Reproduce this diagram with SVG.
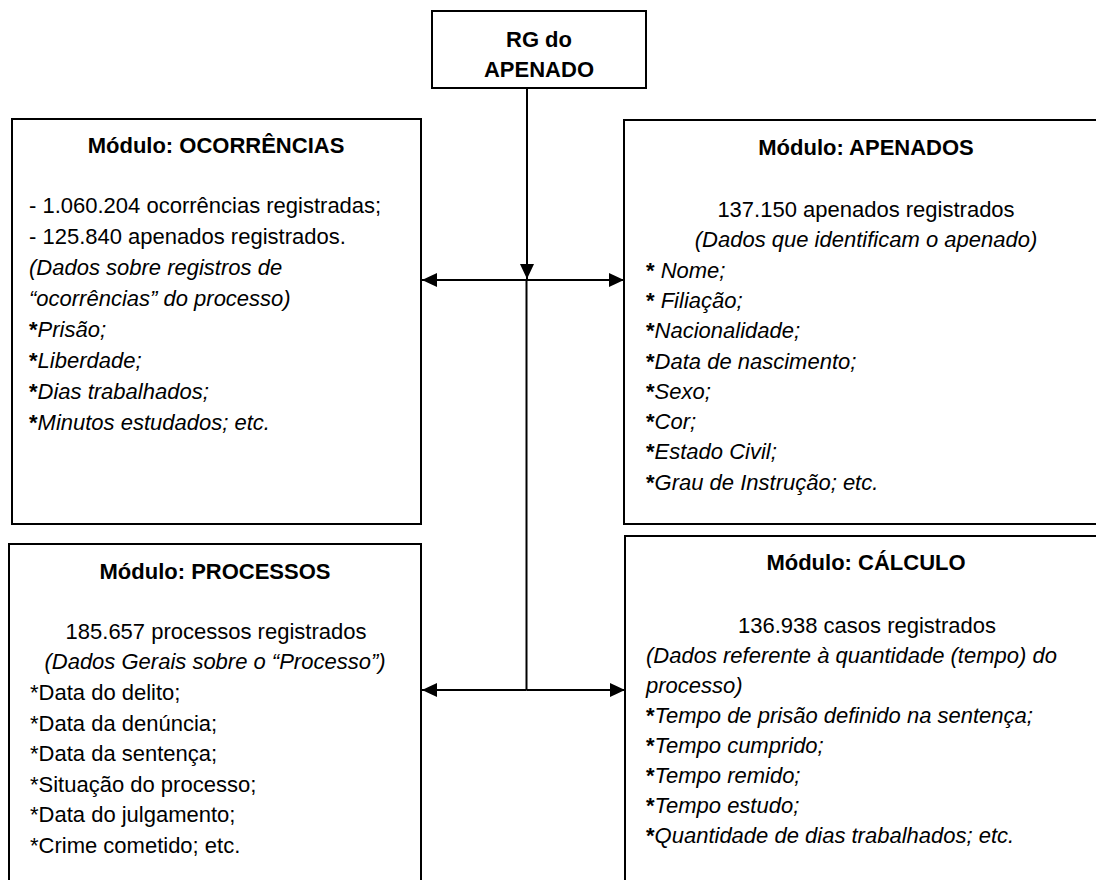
<svg xmlns="http://www.w3.org/2000/svg" width="1096" height="880" viewBox="0 0 1096 880">
<style>
.box{fill:#fff;stroke:#000;stroke-width:2}
text{font-family:"Liberation Sans",Arial,sans-serif;font-size:22px;fill:#000}
.b{font-weight:bold}
.c{text-anchor:middle}
.i{font-style:italic}
.ast{font-weight:bold;font-style:normal}
.con{stroke:#000;stroke-width:2;fill:none}
</style>
<defs>
<marker id="ah" viewBox="0 0 15 14" refX="15" refY="7" markerWidth="15" markerHeight="14" markerUnits="userSpaceOnUse" orient="auto">
<path d="M0,0 L15,7 L0,14 Z" fill="#000"/>
</marker>
</defs>
<g id="connectors">
<line class="con" x1="527" y1="88" x2="527" y2="279" marker-end="url(#ah)"/>
<line class="con" x1="526.5" y1="279" x2="526.5" y2="690"/>
<line class="con" x1="526.5" y1="280" x2="422" y2="280" marker-end="url(#ah)"/>
<line class="con" x1="526.5" y1="280" x2="624" y2="280" marker-end="url(#ah)"/>
<line class="con" x1="526.5" y1="690" x2="422" y2="690" marker-end="url(#ah)"/>
<line class="con" x1="526.5" y1="690" x2="625" y2="690" marker-end="url(#ah)"/>
</g>
<g id="rg">
<rect class="box" x="432" y="11" width="214" height="77"/>
<text class="b c" x="539" y="47">RG do</text>
<text class="b c" x="539" y="77">APENADO</text>
</g>
<g id="ocorrencias">
<rect class="box" x="12" y="119" width="409" height="405"/>
<text class="b c" x="216" y="153">Módulo: OCORRÊNCIAS</text>
<text x="29" y="213">- 1.060.204 ocorrências registradas;</text>
<text x="29" y="244">- 125.840 apenados registrados.</text>
<text class="i" x="29" y="275">(Dados sobre registros de</text>
<text class="i" x="29" y="306">“ocorrências” do processo)</text>
<text class="i" x="29" y="337"><tspan class="ast">*</tspan>Prisão;</text>
<text class="i" x="29" y="368"><tspan class="ast">*</tspan>Liberdade;</text>
<text class="i" x="29" y="399"><tspan class="ast">*</tspan>Dias trabalhados;</text>
<text class="i" x="29" y="430"><tspan class="ast">*</tspan>Minutos estudados; etc.</text>
</g>
<g id="apenados">
<rect class="box" x="624" y="120" width="490" height="404"/>
<text class="b c" x="866" y="155">Módulo: APENADOS</text>
<text class="c" x="866" y="217">137.150 apenados registrados</text>
<text class="i c" x="866" y="247">(Dados que identificam o apenado)</text>
<text class="i" x="646" y="278"><tspan class="ast">*</tspan> Nome;</text>
<text class="i" x="646" y="308"><tspan class="ast">*</tspan> Filiação;</text>
<text class="i" x="646" y="338"><tspan class="ast">*</tspan>Nacionalidade;</text>
<text class="i" x="646" y="369"><tspan class="ast">*</tspan>Data de nascimento;</text>
<text class="i" x="646" y="399"><tspan class="ast">*</tspan>Sexo;</text>
<text class="i" x="646" y="429"><tspan class="ast">*</tspan>Cor;</text>
<text class="i" x="646" y="459"><tspan class="ast">*</tspan>Estado Civil;</text>
<text class="i" x="646" y="490"><tspan class="ast">*</tspan>Grau de Instrução; etc.</text>
</g>
<g id="processos">
<rect class="box" x="9" y="544" width="412" height="360"/>
<text class="b c" x="215" y="579">Módulo: PROCESSOS</text>
<text class="c" x="216" y="639">185.657 processos registrados</text>
<text class="i c" x="215" y="669">(Dados Gerais sobre o “Processo”)</text>
<text x="30" y="700">*Data do delito;</text>
<text x="30" y="731">*Data da denúncia;</text>
<text x="30" y="761">*Data da sentença;</text>
<text x="30" y="792">*Situação do processo;</text>
<text x="30" y="822">*Data do julgamento;</text>
<text x="30" y="853">*Crime cometido; etc.</text>
</g>
<g id="calculo">
<rect class="box" x="625" y="536" width="490" height="360"/>
<text class="b c" x="866" y="570">Módulo: CÁLCULO</text>
<text class="c" x="867" y="633">136.938 casos registrados</text>
<text class="i" x="646" y="663">(Dados referente à quantidade (tempo) do</text>
<text class="i" x="646" y="693">processo)</text>
<text class="i" x="646" y="723"><tspan class="ast">*</tspan>Tempo de prisão definido na sentença;</text>
<text class="i" x="646" y="753"><tspan class="ast">*</tspan>Tempo cumprido;</text>
<text class="i" x="646" y="783"><tspan class="ast">*</tspan>Tempo remido;</text>
<text class="i" x="646" y="813"><tspan class="ast">*</tspan>Tempo estudo;</text>
<text class="i" x="646" y="843"><tspan class="ast">*</tspan>Quantidade de dias trabalhados; etc.</text>
</g>
</svg>
